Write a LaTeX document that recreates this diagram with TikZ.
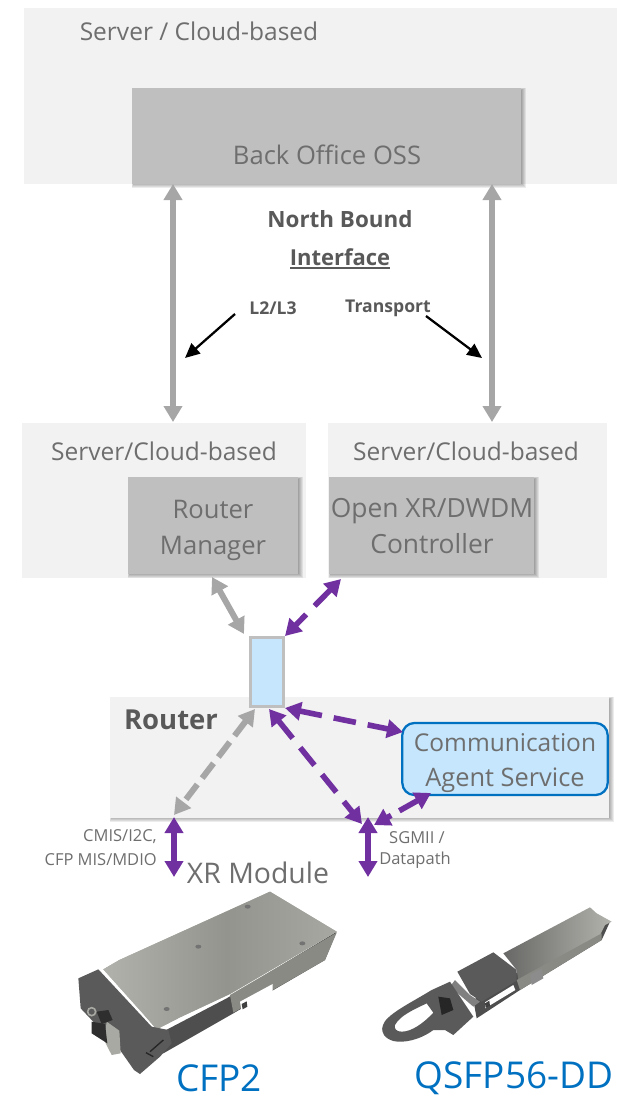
\documentclass[tikz,border=0pt]{standalone}
\usepackage{fontspec}
\setmainfont{Open Sans}
\usetikzlibrary{arrows.meta}
\definecolor{bgpanel}{HTML}{F2F2F2}
\definecolor{boxgrey}{HTML}{BFBFBF}
\definecolor{txtgrey}{HTML}{6E6E6E}
\definecolor{txtdark}{HTML}{595959}
\definecolor{arrgrey}{HTML}{A6A6A6}
\definecolor{purp}{HTML}{7030A0}
\definecolor{lightblue}{HTML}{C5E6FC}
\definecolor{modblue}{HTML}{0070C0}
\definecolor{plateA}{HTML}{B4B4AE}
\definecolor{plateB}{HTML}{94948F}
\definecolor{plateC}{HTML}{A9A9A3}
\definecolor{faceD}{HTML}{5A5A5A}
\definecolor{sideD}{HTML}{4E4E4E}
\definecolor{sideM}{HTML}{8A8A85}
\newcommand{\fpx}[1]{\fontsize{\dimexpr #1pt*3/4\relax}{\dimexpr #1pt*9/10\relax}\selectfont}
% soft drop shadow: stacked translucent rectangles below and right of a box
\newcommand{\softshadow}[4]{%
  \foreach \k in {0,1,2,3,4,5}{%
    \fill[black,opacity=0.075] ({#1+\k*0.4},{#2+\k*0.4}) rectangle ({#3+5-\k},{#4+6-\k});
  }}
\tikzset{
  panel/.style={fill=bgpanel,draw=none},
  greybox/.style={fill=boxgrey,draw=none},
  lbl/.style={text=txtgrey,inner sep=0pt,font=\fpx{24.5}},
  boxlbl/.style={text=txtgrey,inner sep=0pt,font=\fpx{25.6}},
  lblb/.style={text=txtdark,inner sep=0pt,font=\fpx{22}\bfseries},
  small/.style={text=txtgrey,inner sep=0pt,font=\fpx{16.5}},
  smallb/.style={text=txtdark,inner sep=0pt,font=\fpx{17.6}\bfseries},
  modlbl/.style={text=modblue,inner sep=0pt,font=\fpx{37}},
  tipbig/.style={{Triangle[width=13.5pt,length=12pt]}-{Triangle[width=13.5pt,length=12pt]}},
  greyarrow/.style={draw=arrgrey,line width=4.5pt,tipbig},
  purparrow/.style={draw=purp,line width=4.2pt,tipbig},
  purpdash/.style={purparrow,dash pattern=on 17pt off 9pt},
  greydash/.style={greyarrow,dash pattern=on 14pt off 6pt},
  blackarrow/.style={draw=black,line width=1.7pt,-{Triangle[width=10pt,length=11pt]}},
}
\begin{document}
\begin{tikzpicture}[x=0.75pt,y=-0.75pt]
\useasboundingbox (0,0) rectangle (626,1096);
% panels
\fill[panel] (24,8) rectangle (617,184);
\fill[panel] (22,423) rectangle (306,578);
\fill[panel] (328,423) rectangle (607,578);
\softshadow{110}{697}{609}{816}
\fill[panel] (110,697) rectangle (609,818);
\softshadow{132}{88}{521}{182}
\fill[greybox] (132,88) rectangle (521,184);
\softshadow{128}{477}{298}{572}
\fill[greybox] (128,477) rectangle (298,574);
\softshadow{329}{477}{534}{572}
\fill[greybox] (329,477) rectangle (534,574);
\coordinate (boL) at (173,184); \coordinate (boR) at (492,184);
\coordinate (rmT) at (173,422); \coordinate (ctT) at (492,422);
\node[lbl] (servertop) at (199,31) {Server / Cloud-based};
\node[boxlbl] (backoffice) at (327,155) {Back Office OSS};
\node[lbl] (serverL) at (164,451) {Server/Cloud-based};
\node[lbl] (serverR) at (466,451) {Server/Cloud-based};
\node[boxlbl] (rmgr1) at (213,509) {Router};
\node[boxlbl] (rmgr2) at (213,548) {Manager};
\node[boxlbl,font=\fpx{26.4}] (ctl1) at (432,511) {Open XR/DWDM};
\node[boxlbl,font=\fpx{26.4}] (ctl2) at (432,544) {Controller};
\node[lblb,font=\fpx{22.4}\bfseries] (nb) at (340,219) {North Bound};
\node[lblb] (ifc) at (340,257) {Interface};
\draw[txtdark,line width=1.3pt] (290,268) -- (390,268);
\node[smallb] (l2) at (273,308) {L2/L3};
\node[smallb] (tr) at (388,308) {Transport};
% vertical links
\draw[greyarrow] (boL) -- (rmT);
\draw[greyarrow] (boR) -- (ctT);
\coordinate (a1s) at (235,314); \coordinate (a1e) at (185,358);
\coordinate (a2s) at (426,316); \coordinate (a2e) at (482,358);
\draw[blackarrow] (a1s) -- (a1e);
\draw[blackarrow] (a2s) -- (a2e);
% router side
\node[draw=boxgrey,fill=lightblue,line width=1.9pt,inner sep=0pt,minimum width=25pt,minimum height=51.5pt] (port) at (267,672) {};
\node[draw=modblue,fill=lightblue,line width=1.7pt,rounded corners=9pt,inner sep=0pt,minimum width=154pt,minimum height=54pt] (agent) at (505,759) {};
\node[lbl] (ag1) at (505,743) {Communication};
\node[boxlbl,font=\fpx{25.4}] (ag2) at (505,780) {Agent Service};
\node[text=txtdark,inner sep=0pt,font=\fpx{27.5}\bfseries] (router) at (171,720) {Router};
\coordinate (rmB) at (212,577); \coordinate (portTL) at (244,634);
\coordinate (ctB) at (341,579); \coordinate (portTR) at (285,636);
\coordinate (portBR) at (285,708); \coordinate (agL) at (403,732);
\coordinate (portBL) at (255,709); \coordinate (cmT) at (174,815);
\coordinate (portB) at (269,709); \coordinate (sgA) at (362,824);
\coordinate (agB) at (431,793); \coordinate (sgB) at (374,825);
\coordinate (cmTop) at (174,817); \coordinate (cmBot) at (174,877);
\coordinate (sgTop) at (368,817); \coordinate (sgBot) at (368,877);
\draw[greyarrow] (rmB) -- (portTL);
\draw[purpdash] (ctB) -- (portTR);
\draw[purpdash] (portBR) -- (agL);
\draw[greydash] (portBL) -- (cmT);
\draw[purpdash] (portB) -- (sgA);
\draw[purpdash,dash pattern=on 16pt off 7pt] (agB) -- (sgB);
\draw[purparrow] (cmTop) -- (cmBot);
\draw[purparrow] (sgTop) -- (sgBot);
\node[small,anchor=east] (c1) at (157,837) {CMIS/I2C,};
\node[small,anchor=east] (c2) at (157,860) {CFP MIS/MDIO};
\node[small] (s1) at (417,838) {SGMII /};
\node[small] (s2) at (415,860) {Datapath};
\node[text=txtgrey,inner sep=0pt,font=\fpx{28.4}] (xr) at (258,873) {XR Module};
\node[modlbl] (cfp) at (219,1078) {CFP2};
\node[modlbl] (qsfp) at (514,1078) {QSFP56-DD};
% CFP2 module
\begin{scope}[shift={(60,880)},x=0.25pt,y=-0.25pt]
  \fill[sideD] (280,470) -- (500,355) -- (830,155) -- (795,240) -- (520,400) -- (345,500) -- (310,520) -- cycle;
  \fill[sideM] (510,345) -- (830,158) -- (795,240) -- (520,398) -- cycle;
  \begin{scope}
    \clip (130,268) -- (178,240) -- (630,35) -- (830,155) -- (510,342) -- (360,412) -- (290,448) -- (250,402) -- cycle;
    \fill[plateC] (100,0) rectangle (850,470);
    \shade[left color=plateA,right color=plateB] (100,0) rectangle (500,470);
    \shade[left color=plateB,right color=plateC] (500,0) rectangle (850,470);
  \end{scope}
  \fill[white] (540,365) -- (638,312) -- (638,336) -- (545,395) -- cycle;
  \fill[black!75] (545,372) -- (560,364) -- (562,380) -- (548,388) -- cycle;
  \fill[faceD] (55,295) -- (115,268) -- (275,440) -- (325,450) -- (335,490) -- (300,530) -- (240,582) -- (222,570) -- (180,510) -- (62,385) -- cycle;
  \fill[plateC] (140,425) -- (178,452) -- (182,520) -- (155,525) -- (132,480) -- cycle;
  \fill[black!82] (95,425) -- (135,432) -- (142,490) -- (95,460) -- cycle;
  \fill[black!82] (110,395) -- (145,390) -- (158,420) -- (125,432) -- cycle;
  \draw[plateC,line width=1.2pt] (95,395) circle (12);
  \draw[black!85,line width=1pt] (258,518) -- (280,530) (270,515) -- (310,480);
  \foreach \p in {(320,387),(415,200),(563,80),(727,190)}
    \fill[black!55] \p ellipse (9 and 6);
\end{scope}
% QSFP module
\begin{scope}[shift={(370,890)},x=0.25pt,y=-0.25pt]
  \fill[sideD] (310,330) -- (660,110) -- (720,95) -- (695,150) -- (450,300) -- (320,385) -- cycle;
  \begin{scope}
    \clip (400,190) -- (660,52) -- (680,70) -- (725,95) -- (705,105) -- (690,135) -- (445,270) -- (440,240) -- cycle;
    \shade[left color=sideD!70!plateB,right color=plateA] (380,40) rectangle (730,280);
  \end{scope}
  \fill[sideM] (440,270) -- (695,130) -- (695,150) -- (450,300) -- cycle;
  \fill[black!45] (480,255) -- (515,235) -- (520,265) -- (485,285) -- cycle;
  \fill[faceD] (262,245) -- (370,187) -- (440,240) -- (440,272) -- (335,335) -- (300,312) -- cycle;
  \fill[black!50] (255,270) -- (300,315) -- (330,335) -- (310,350) -- (240,290) -- cycle;
  \fill[white] (345,337) -- (430,285) -- (436,300) -- (345,355) -- cycle;
  \fill[black!75] (345,340) -- (358,332) -- (360,348) -- (347,354) -- cycle;
  \fill[faceD,even odd rule] (38,408) .. controls (45,375) and (120,340) .. (185,300) -- (240,275) -- (310,380) -- (250,435) -- (225,420) -- (190,420) .. controls (150,450) and (100,460) .. (70,453) .. controls (45,445) and (32,430) .. (38,408) -- cycle
     (75,405) .. controls (90,375) and (140,355) .. (170,340) -- (190,368) .. controls (160,400) and (125,425) .. (95,425) .. controls (78,425) and (72,415) .. (75,405) -- cycle;
  \fill[black!85] (205,320) -- (240,325) -- (250,360) -- (215,375) -- cycle;
\end{scope}
\end{tikzpicture}
\end{document}
